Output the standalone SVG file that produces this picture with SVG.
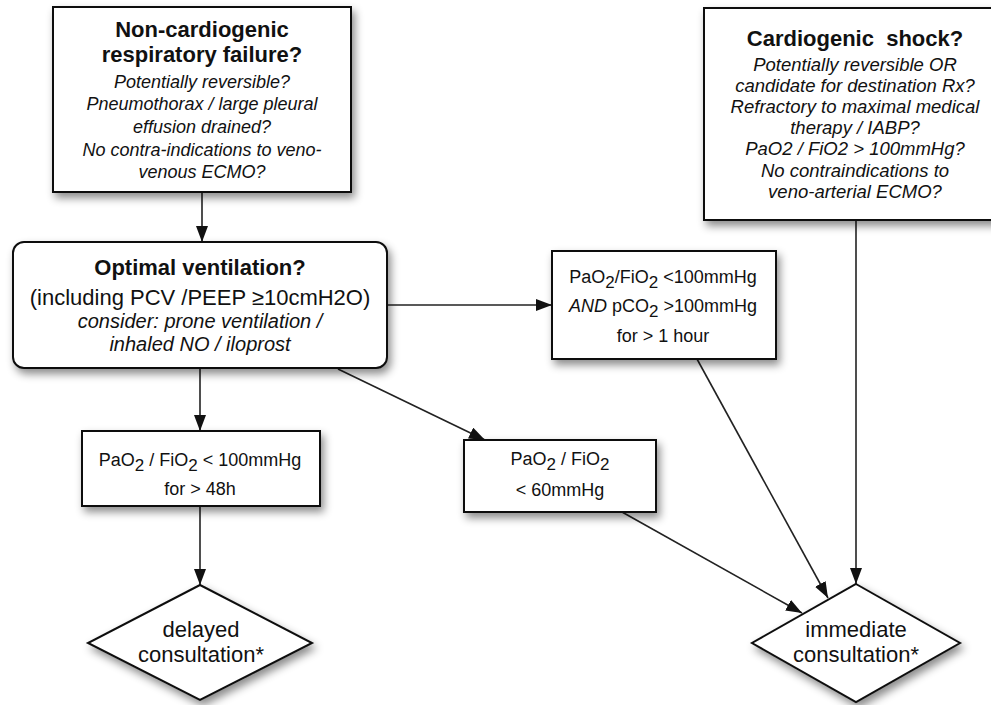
<svg xmlns="http://www.w3.org/2000/svg" width="991" height="705" viewBox="0 0 991 705">
<defs>
<filter id="sh" x="-10%" y="-10%" width="130%" height="140%">
<feDropShadow dx="3" dy="5" stdDeviation="4" flood-color="#000" flood-opacity="0.45"/>
</filter>
<marker id="ah" viewBox="0 0 16 12" refX="16" refY="6" markerWidth="16" markerHeight="12" markerUnits="userSpaceOnUse" orient="auto">
<path d="M0,0 L16,6 L0,12 z" fill="#111"/>
</marker>
</defs>
<style>
.box{fill:#fff;stroke:#111;stroke-width:2;filter:url(#sh)}
text{font-family:"Liberation Sans",Arial,sans-serif;fill:#111;text-anchor:middle}
.b{font-size:22px;font-weight:bold}
.r{font-size:22px}
.i{font-size:18px;font-style:italic}
.i2{font-size:20px;font-style:italic}
.ic{font-size:18.5px;font-style:italic}
.s{font-size:18px}
.sub{font-size:17px}
.it{font-style:italic}
.con{fill:none;stroke:#222;stroke-width:1.6;marker-end:url(#ah)}
</style>
<rect width="991" height="705" fill="#fff"/>
<g id="connectors">
<line class="con" x1="202" y1="192" x2="202" y2="242"/>
<line class="con" x1="387" y1="305" x2="552" y2="305"/>
<line class="con" x1="200" y1="368" x2="200" y2="431"/>
<line class="con" x1="200" y1="506" x2="200" y2="585"/>
<line class="con" x1="338" y1="369" x2="485" y2="440"/>
<line class="con" x1="697" y1="359" x2="828" y2="598"/>
<line class="con" x1="622" y1="512" x2="802" y2="613"/>
<line class="con" x1="856" y1="220" x2="856" y2="584"/>
</g>
<g id="n-noncardio">
<rect class="box" x="53" y="7" width="298" height="185"/>
<text class="b" x="202" y="37">Non-cardiogenic</text>
<text class="b" x="202" y="62">respiratory failure?</text>
<text class="i" x="202" y="88">Potentially reversible?</text>
<text class="i" x="202" y="110">Pneumothorax / large pleural</text>
<text class="i" x="202" y="133">effusion drained?</text>
<text class="i" x="202" y="156">No contra-indications to veno-</text>
<text class="i" x="202" y="178">venous ECMO?</text>
</g>
<g id="n-cardio">
<rect class="box" x="704" y="8" width="302" height="212"/>
<text class="b" x="855" y="46" style="white-space:pre">Cardiogenic  shock?</text>
<text class="ic" x="855" y="71">Potentially reversible OR</text>
<text class="ic" x="855" y="92">candidate for destination Rx?</text>
<text class="ic" x="855" y="113">Refractory to maximal medical</text>
<text class="ic" x="855" y="134">therapy / IABP?</text>
<text class="ic" x="855" y="155">PaO2 / FiO2 &gt; 100mmHg?</text>
<text class="ic" x="855" y="177">No contraindications to</text>
<text class="ic" x="855" y="198">veno-arterial ECMO?</text>
</g>
<g id="n-optimal">
<rect class="box" x="13" y="242" width="374" height="126" rx="11" ry="11"/>
<text class="b" x="200" y="275">Optimal ventilation?</text>
<text class="r" x="200" y="305">(including PCV /PEEP ≥10cmH2O)</text>
<text class="i2" x="200" y="328">consider: prone ventilation /</text>
<text class="i2" x="200" y="351">inhaled NO / iloprost</text>
</g>
<g id="n-1hour">
<rect class="box" x="552" y="251" width="224" height="108"/>
<text class="s" x="663" y="283">PaO<tspan class="sub" dy="5">2</tspan><tspan dy="-5">/FiO</tspan><tspan class="sub" dy="5">2</tspan><tspan dy="-5"> &lt;100mmHg</tspan></text>
<text class="s" x="663" y="312"><tspan class="it">AND</tspan> pCO<tspan class="sub" dy="5">2</tspan><tspan dy="-5"> &gt;100mmHg</tspan></text>
<text class="s" x="663" y="342">for &gt; 1 hour</text>
</g>
<g id="n-48h">
<rect class="box" x="82" y="431" width="238" height="75"/>
<text class="s" x="200" y="466">PaO<tspan class="sub" dy="5">2</tspan><tspan dy="-5"> / FiO</tspan><tspan class="sub" dy="5">2</tspan><tspan dy="-5"> &lt; 100mmHg</tspan></text>
<text class="s" x="200" y="495">for &gt; 48h</text>
</g>
<g id="n-60">
<rect class="box" x="464" y="440" width="192" height="72"/>
<text class="s" x="560" y="465">PaO<tspan class="sub" dy="5">2</tspan><tspan dy="-5"> / FiO</tspan><tspan class="sub" dy="5">2</tspan></text>
<text class="s" x="560" y="496">&lt; 60mmHg</text>
</g>
<g id="n-delayed">
<polygon class="box" points="200,585 312,643 200,700 88,643"/>
<text class="r" x="201" y="637">delayed</text>
<text class="r" x="201" y="662">consultation*</text>
</g>
<g id="n-immediate">
<polygon class="box" points="856,584 960,643 856,702 752,643"/>
<text class="r" x="856" y="637">immediate</text>
<text class="r" x="856" y="662">consultation*</text>
</g>
</svg>
